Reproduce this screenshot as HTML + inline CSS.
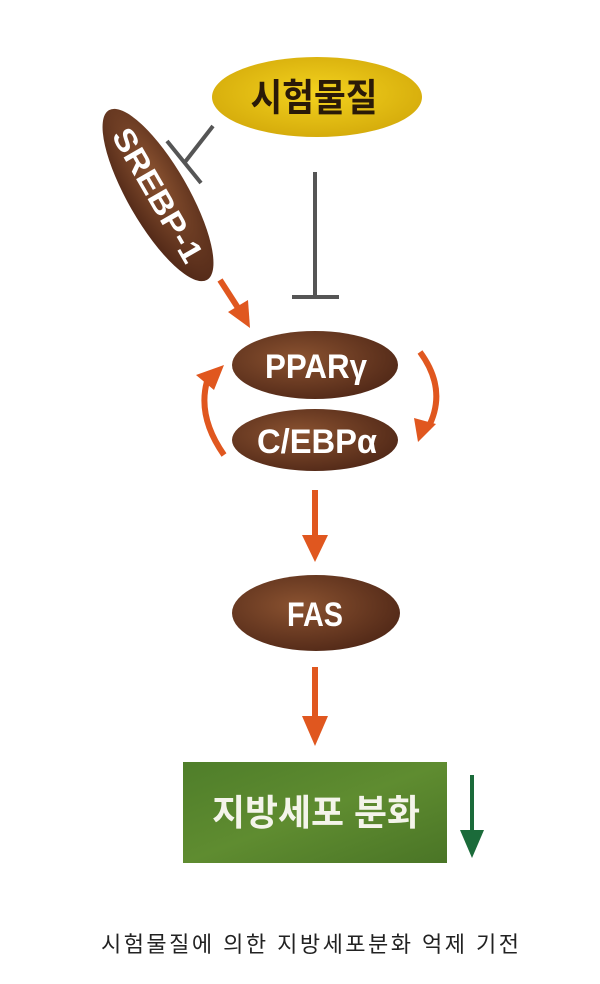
<!DOCTYPE html>
<html><head><meta charset="utf-8"><style>
body{margin:0;background:#fff;}
svg{display:block}
</style></head><body>
<svg width="600" height="984" viewBox="0 0 600 984" xmlns="http://www.w3.org/2000/svg">
<defs>
<radialGradient id="y" cx="50%" cy="45%" r="60%"><stop offset="0" stop-color="#f3d21e"/><stop offset="1" stop-color="#d3a90a"/></radialGradient>
<radialGradient id="b" cx="40%" cy="40%" r="70%"><stop offset="0" stop-color="#8a5230"/><stop offset="1" stop-color="#4e2616"/></radialGradient>
<linearGradient id="g" x1="0" y1="0" x2="1" y2="1"><stop offset="0" stop-color="#4f7e2a"/><stop offset="0.5" stop-color="#5f8c30"/><stop offset="1" stop-color="#4a7526"/></linearGradient>
</defs>
<ellipse cx="317" cy="97" rx="105" ry="40" fill="url(#y)"/>
<text x="314" y="111" font-family="Liberation Sans, Noto Sans CJK KR, sans-serif" font-size="38" font-weight="bold" fill="#2a1a08" text-anchor="middle" textLength="127" lengthAdjust="spacingAndGlyphs">시험물질</text>
<g transform="translate(158,195) rotate(60)">
<ellipse cx="0" cy="0" rx="98" ry="30" fill="url(#b)"/>
<text x="0" y="11" font-family="Liberation Sans, sans-serif" font-size="31" font-weight="bold" fill="#fff" text-anchor="middle" textLength="150" lengthAdjust="spacingAndGlyphs">SREBP-1</text>
</g>
<g stroke="#555" stroke-width="4" fill="none">
<line x1="213" y1="126" x2="185" y2="162"/>
<line x1="167" y1="141" x2="201" y2="183"/>
<line x1="315" y1="172" x2="315" y2="297"/>
<line x1="292" y1="297" x2="339" y2="297"/>
</g>
<g stroke="#e0571f" stroke-width="6" fill="none">
<line x1="220" y1="280" x2="240" y2="311"/>
<path d="M224 455 Q196 415 208 378"/>
<path d="M420 352 Q448 390 428 428"/>
<line x1="315" y1="490" x2="315" y2="540"/>
<line x1="315" y1="667" x2="315" y2="722"/>
</g>
<g fill="#e0571f">
<polygon points="250,328 228,312 248,300"/>
<polygon points="224,365 196,375 214,390"/>
<polygon points="418,442 414,418 436,424"/>
<polygon points="315,562 302,535 328,535"/>
<polygon points="315,746 302,716 328,716"/>
</g>
<ellipse cx="315" cy="365" rx="83" ry="34" fill="url(#b)"/>
<text x="316" y="378" font-family="Liberation Sans, sans-serif" font-size="34" font-weight="bold" fill="#fff" text-anchor="middle" textLength="102" lengthAdjust="spacingAndGlyphs">PPARγ</text>
<ellipse cx="315" cy="440" rx="83" ry="31" fill="url(#b)"/>
<text x="317" y="453" font-family="Liberation Sans, sans-serif" font-size="34" font-weight="bold" fill="#fff" text-anchor="middle" textLength="120" lengthAdjust="spacingAndGlyphs">C/EBPα</text>
<ellipse cx="316" cy="613" rx="84" ry="38" fill="url(#b)"/>
<text x="315" y="626" font-family="Liberation Sans, sans-serif" font-size="34" font-weight="bold" fill="#fff" text-anchor="middle" textLength="56" lengthAdjust="spacingAndGlyphs">FAS</text>
<rect x="183" y="762" width="264" height="101" fill="url(#g)"/>
<text x="316" y="825" font-family="Liberation Sans, Noto Sans CJK KR, sans-serif" font-size="36" font-weight="bold" fill="#f4f4ea" text-anchor="middle" textLength="208" lengthAdjust="spacingAndGlyphs">지방세포 분화</text>
<line x1="472" y1="775" x2="472" y2="840" stroke="#1b6b3a" stroke-width="4"/>
<polygon points="472,858 460,830 484,830" fill="#1b6b3a"/>
<text x="101" y="952" font-family="Liberation Sans, Noto Sans CJK KR, sans-serif" font-size="22" fill="#222" textLength="418" lengthAdjust="spacing">시험물질에 의한 지방세포분화 억제 기전</text>
</svg>
</body></html>
